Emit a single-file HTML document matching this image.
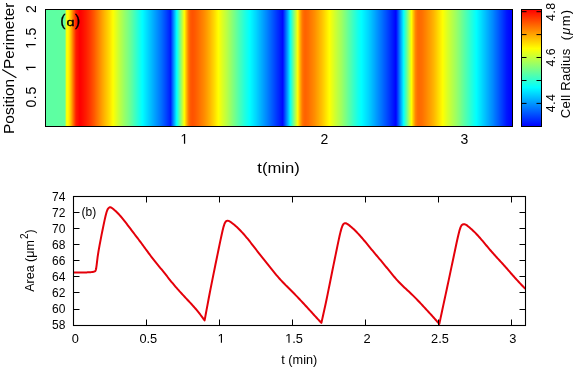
<!DOCTYPE html>
<html><head><meta charset="utf-8"><style>
html,body{margin:0;padding:0;background:#fff;}
svg{display:block;will-change:transform;}
text{font-family:"Liberation Sans",sans-serif;fill:#000;}
</style></head><body>
<svg width="573" height="367" viewBox="0 0 573 367">
<defs>
<linearGradient id="heat" x1="0" y1="0" x2="1" y2="0">
<stop offset="0.0000" stop-color="rgb(92,255,163)"/>
<stop offset="0.0021" stop-color="rgb(92,255,163)"/>
<stop offset="0.0043" stop-color="rgb(92,255,163)"/>
<stop offset="0.0064" stop-color="rgb(92,255,163)"/>
<stop offset="0.0086" stop-color="rgb(92,255,163)"/>
<stop offset="0.0107" stop-color="rgb(93,255,162)"/>
<stop offset="0.0128" stop-color="rgb(93,255,162)"/>
<stop offset="0.0150" stop-color="rgb(93,255,162)"/>
<stop offset="0.0171" stop-color="rgb(93,255,162)"/>
<stop offset="0.0193" stop-color="rgb(93,255,162)"/>
<stop offset="0.0214" stop-color="rgb(93,255,162)"/>
<stop offset="0.0236" stop-color="rgb(93,255,162)"/>
<stop offset="0.0257" stop-color="rgb(94,255,161)"/>
<stop offset="0.0278" stop-color="rgb(94,255,161)"/>
<stop offset="0.0300" stop-color="rgb(94,255,161)"/>
<stop offset="0.0321" stop-color="rgb(95,255,160)"/>
<stop offset="0.0343" stop-color="rgb(95,255,160)"/>
<stop offset="0.0364" stop-color="rgb(96,255,159)"/>
<stop offset="0.0385" stop-color="rgb(97,255,158)"/>
<stop offset="0.0407" stop-color="rgb(99,255,156)"/>
<stop offset="0.0428" stop-color="rgb(151,255,104)"/>
<stop offset="0.0450" stop-color="rgb(242,255,13)"/>
<stop offset="0.0471" stop-color="rgb(255,255,0)"/>
<stop offset="0.0493" stop-color="rgb(255,243,0)"/>
<stop offset="0.0514" stop-color="rgb(255,224,0)"/>
<stop offset="0.0535" stop-color="rgb(255,198,0)"/>
<stop offset="0.0557" stop-color="rgb(255,169,0)"/>
<stop offset="0.0578" stop-color="rgb(255,136,0)"/>
<stop offset="0.0600" stop-color="rgb(255,104,0)"/>
<stop offset="0.0621" stop-color="rgb(255,74,0)"/>
<stop offset="0.0642" stop-color="rgb(255,44,0)"/>
<stop offset="0.0664" stop-color="rgb(255,25,0)"/>
<stop offset="0.0685" stop-color="rgb(255,17,0)"/>
<stop offset="0.0707" stop-color="rgb(255,9,0)"/>
<stop offset="0.0728" stop-color="rgb(255,1,0)"/>
<stop offset="0.0749" stop-color="rgb(255,1,0)"/>
<stop offset="0.0771" stop-color="rgb(255,5,0)"/>
<stop offset="0.0792" stop-color="rgb(255,10,0)"/>
<stop offset="0.0814" stop-color="rgb(255,15,0)"/>
<stop offset="0.0835" stop-color="rgb(255,21,0)"/>
<stop offset="0.0857" stop-color="rgb(255,26,0)"/>
<stop offset="0.0878" stop-color="rgb(255,32,0)"/>
<stop offset="0.0899" stop-color="rgb(255,39,0)"/>
<stop offset="0.0921" stop-color="rgb(255,45,0)"/>
<stop offset="0.0942" stop-color="rgb(255,52,0)"/>
<stop offset="0.0964" stop-color="rgb(255,59,0)"/>
<stop offset="0.0985" stop-color="rgb(255,67,0)"/>
<stop offset="0.1006" stop-color="rgb(255,75,0)"/>
<stop offset="0.1028" stop-color="rgb(255,83,0)"/>
<stop offset="0.1049" stop-color="rgb(255,91,0)"/>
<stop offset="0.1071" stop-color="rgb(255,101,0)"/>
<stop offset="0.1092" stop-color="rgb(255,110,0)"/>
<stop offset="0.1113" stop-color="rgb(255,119,0)"/>
<stop offset="0.1135" stop-color="rgb(255,128,0)"/>
<stop offset="0.1156" stop-color="rgb(255,137,0)"/>
<stop offset="0.1178" stop-color="rgb(255,146,0)"/>
<stop offset="0.1199" stop-color="rgb(255,155,0)"/>
<stop offset="0.1221" stop-color="rgb(255,164,0)"/>
<stop offset="0.1242" stop-color="rgb(255,172,0)"/>
<stop offset="0.1263" stop-color="rgb(255,181,0)"/>
<stop offset="0.1285" stop-color="rgb(255,189,0)"/>
<stop offset="0.1306" stop-color="rgb(255,197,0)"/>
<stop offset="0.1328" stop-color="rgb(255,205,0)"/>
<stop offset="0.1349" stop-color="rgb(255,213,0)"/>
<stop offset="0.1370" stop-color="rgb(255,221,0)"/>
<stop offset="0.1392" stop-color="rgb(255,231,0)"/>
<stop offset="0.1413" stop-color="rgb(255,241,0)"/>
<stop offset="0.1435" stop-color="rgb(255,250,0)"/>
<stop offset="0.1456" stop-color="rgb(250,255,5)"/>
<stop offset="0.1478" stop-color="rgb(240,255,15)"/>
<stop offset="0.1499" stop-color="rgb(231,255,24)"/>
<stop offset="0.1520" stop-color="rgb(221,255,34)"/>
<stop offset="0.1542" stop-color="rgb(212,255,43)"/>
<stop offset="0.1563" stop-color="rgb(202,255,53)"/>
<stop offset="0.1585" stop-color="rgb(193,255,62)"/>
<stop offset="0.1606" stop-color="rgb(184,255,71)"/>
<stop offset="0.1627" stop-color="rgb(176,255,79)"/>
<stop offset="0.1649" stop-color="rgb(168,255,87)"/>
<stop offset="0.1670" stop-color="rgb(159,255,96)"/>
<stop offset="0.1692" stop-color="rgb(151,255,104)"/>
<stop offset="0.1713" stop-color="rgb(143,255,112)"/>
<stop offset="0.1734" stop-color="rgb(136,255,119)"/>
<stop offset="0.1756" stop-color="rgb(129,255,126)"/>
<stop offset="0.1777" stop-color="rgb(121,255,134)"/>
<stop offset="0.1799" stop-color="rgb(113,255,142)"/>
<stop offset="0.1820" stop-color="rgb(104,255,151)"/>
<stop offset="0.1842" stop-color="rgb(95,255,160)"/>
<stop offset="0.1863" stop-color="rgb(87,255,168)"/>
<stop offset="0.1884" stop-color="rgb(77,255,178)"/>
<stop offset="0.1906" stop-color="rgb(68,255,187)"/>
<stop offset="0.1927" stop-color="rgb(59,255,196)"/>
<stop offset="0.1949" stop-color="rgb(50,255,205)"/>
<stop offset="0.1970" stop-color="rgb(41,255,214)"/>
<stop offset="0.1991" stop-color="rgb(32,255,223)"/>
<stop offset="0.2013" stop-color="rgb(23,255,232)"/>
<stop offset="0.2034" stop-color="rgb(15,255,240)"/>
<stop offset="0.2056" stop-color="rgb(6,255,249)"/>
<stop offset="0.2077" stop-color="rgb(0,253,255)"/>
<stop offset="0.2099" stop-color="rgb(0,246,255)"/>
<stop offset="0.2120" stop-color="rgb(0,238,255)"/>
<stop offset="0.2141" stop-color="rgb(0,231,255)"/>
<stop offset="0.2163" stop-color="rgb(0,223,255)"/>
<stop offset="0.2184" stop-color="rgb(0,216,255)"/>
<stop offset="0.2206" stop-color="rgb(0,208,255)"/>
<stop offset="0.2227" stop-color="rgb(0,201,255)"/>
<stop offset="0.2248" stop-color="rgb(0,193,255)"/>
<stop offset="0.2270" stop-color="rgb(0,186,255)"/>
<stop offset="0.2291" stop-color="rgb(0,178,255)"/>
<stop offset="0.2313" stop-color="rgb(0,171,255)"/>
<stop offset="0.2334" stop-color="rgb(0,163,255)"/>
<stop offset="0.2355" stop-color="rgb(0,156,255)"/>
<stop offset="0.2377" stop-color="rgb(0,148,255)"/>
<stop offset="0.2398" stop-color="rgb(0,141,255)"/>
<stop offset="0.2420" stop-color="rgb(0,133,255)"/>
<stop offset="0.2441" stop-color="rgb(0,126,255)"/>
<stop offset="0.2463" stop-color="rgb(0,118,255)"/>
<stop offset="0.2484" stop-color="rgb(0,110,255)"/>
<stop offset="0.2505" stop-color="rgb(0,101,255)"/>
<stop offset="0.2527" stop-color="rgb(0,92,255)"/>
<stop offset="0.2548" stop-color="rgb(0,83,255)"/>
<stop offset="0.2570" stop-color="rgb(0,74,255)"/>
<stop offset="0.2591" stop-color="rgb(0,65,255)"/>
<stop offset="0.2612" stop-color="rgb(0,55,255)"/>
<stop offset="0.2634" stop-color="rgb(0,46,255)"/>
<stop offset="0.2655" stop-color="rgb(0,36,255)"/>
<stop offset="0.2677" stop-color="rgb(0,26,255)"/>
<stop offset="0.2698" stop-color="rgb(0,60,255)"/>
<stop offset="0.2719" stop-color="rgb(0,99,255)"/>
<stop offset="0.2741" stop-color="rgb(0,137,255)"/>
<stop offset="0.2762" stop-color="rgb(0,174,255)"/>
<stop offset="0.2784" stop-color="rgb(0,212,255)"/>
<stop offset="0.2805" stop-color="rgb(0,247,255)"/>
<stop offset="0.2827" stop-color="rgb(27,255,228)"/>
<stop offset="0.2848" stop-color="rgb(61,255,194)"/>
<stop offset="0.2869" stop-color="rgb(95,255,160)"/>
<stop offset="0.2891" stop-color="rgb(129,255,126)"/>
<stop offset="0.2912" stop-color="rgb(162,255,93)"/>
<stop offset="0.2934" stop-color="rgb(195,255,60)"/>
<stop offset="0.2955" stop-color="rgb(228,255,27)"/>
<stop offset="0.2976" stop-color="rgb(255,249,0)"/>
<stop offset="0.2998" stop-color="rgb(255,216,0)"/>
<stop offset="0.3019" stop-color="rgb(255,183,0)"/>
<stop offset="0.3041" stop-color="rgb(255,152,0)"/>
<stop offset="0.3062" stop-color="rgb(255,123,0)"/>
<stop offset="0.3084" stop-color="rgb(255,104,0)"/>
<stop offset="0.3105" stop-color="rgb(255,91,0)"/>
<stop offset="0.3126" stop-color="rgb(255,86,0)"/>
<stop offset="0.3148" stop-color="rgb(255,83,0)"/>
<stop offset="0.3169" stop-color="rgb(255,85,0)"/>
<stop offset="0.3191" stop-color="rgb(255,88,0)"/>
<stop offset="0.3212" stop-color="rgb(255,92,0)"/>
<stop offset="0.3233" stop-color="rgb(255,97,0)"/>
<stop offset="0.3255" stop-color="rgb(255,102,0)"/>
<stop offset="0.3276" stop-color="rgb(255,107,0)"/>
<stop offset="0.3298" stop-color="rgb(255,113,0)"/>
<stop offset="0.3319" stop-color="rgb(255,118,0)"/>
<stop offset="0.3340" stop-color="rgb(255,124,0)"/>
<stop offset="0.3362" stop-color="rgb(255,129,0)"/>
<stop offset="0.3383" stop-color="rgb(255,135,0)"/>
<stop offset="0.3405" stop-color="rgb(255,141,0)"/>
<stop offset="0.3426" stop-color="rgb(255,148,0)"/>
<stop offset="0.3448" stop-color="rgb(255,155,0)"/>
<stop offset="0.3469" stop-color="rgb(255,162,0)"/>
<stop offset="0.3490" stop-color="rgb(255,170,0)"/>
<stop offset="0.3512" stop-color="rgb(255,177,0)"/>
<stop offset="0.3533" stop-color="rgb(255,185,0)"/>
<stop offset="0.3555" stop-color="rgb(255,194,0)"/>
<stop offset="0.3576" stop-color="rgb(255,202,0)"/>
<stop offset="0.3597" stop-color="rgb(255,210,0)"/>
<stop offset="0.3619" stop-color="rgb(255,219,0)"/>
<stop offset="0.3640" stop-color="rgb(255,228,0)"/>
<stop offset="0.3662" stop-color="rgb(255,238,0)"/>
<stop offset="0.3683" stop-color="rgb(255,247,0)"/>
<stop offset="0.3704" stop-color="rgb(254,255,1)"/>
<stop offset="0.3726" stop-color="rgb(246,255,9)"/>
<stop offset="0.3747" stop-color="rgb(237,255,18)"/>
<stop offset="0.3769" stop-color="rgb(228,255,27)"/>
<stop offset="0.3790" stop-color="rgb(219,255,36)"/>
<stop offset="0.3812" stop-color="rgb(211,255,44)"/>
<stop offset="0.3833" stop-color="rgb(203,255,52)"/>
<stop offset="0.3854" stop-color="rgb(195,255,60)"/>
<stop offset="0.3876" stop-color="rgb(187,255,68)"/>
<stop offset="0.3897" stop-color="rgb(179,255,76)"/>
<stop offset="0.3919" stop-color="rgb(170,255,85)"/>
<stop offset="0.3940" stop-color="rgb(161,255,94)"/>
<stop offset="0.3961" stop-color="rgb(153,255,102)"/>
<stop offset="0.3983" stop-color="rgb(144,255,111)"/>
<stop offset="0.4004" stop-color="rgb(135,255,120)"/>
<stop offset="0.4026" stop-color="rgb(126,255,129)"/>
<stop offset="0.4047" stop-color="rgb(118,255,137)"/>
<stop offset="0.4069" stop-color="rgb(109,255,146)"/>
<stop offset="0.4090" stop-color="rgb(100,255,155)"/>
<stop offset="0.4111" stop-color="rgb(92,255,163)"/>
<stop offset="0.4133" stop-color="rgb(83,255,172)"/>
<stop offset="0.4154" stop-color="rgb(75,255,180)"/>
<stop offset="0.4176" stop-color="rgb(66,255,189)"/>
<stop offset="0.4197" stop-color="rgb(59,255,196)"/>
<stop offset="0.4218" stop-color="rgb(51,255,204)"/>
<stop offset="0.4240" stop-color="rgb(43,255,212)"/>
<stop offset="0.4261" stop-color="rgb(35,255,220)"/>
<stop offset="0.4283" stop-color="rgb(28,255,227)"/>
<stop offset="0.4304" stop-color="rgb(21,255,234)"/>
<stop offset="0.4325" stop-color="rgb(15,255,240)"/>
<stop offset="0.4347" stop-color="rgb(8,255,247)"/>
<stop offset="0.4368" stop-color="rgb(1,255,254)"/>
<stop offset="0.4390" stop-color="rgb(0,250,255)"/>
<stop offset="0.4411" stop-color="rgb(0,243,255)"/>
<stop offset="0.4433" stop-color="rgb(0,237,255)"/>
<stop offset="0.4454" stop-color="rgb(0,230,255)"/>
<stop offset="0.4475" stop-color="rgb(0,223,255)"/>
<stop offset="0.4497" stop-color="rgb(0,217,255)"/>
<stop offset="0.4518" stop-color="rgb(0,210,255)"/>
<stop offset="0.4540" stop-color="rgb(0,202,255)"/>
<stop offset="0.4561" stop-color="rgb(0,195,255)"/>
<stop offset="0.4582" stop-color="rgb(0,187,255)"/>
<stop offset="0.4604" stop-color="rgb(0,180,255)"/>
<stop offset="0.4625" stop-color="rgb(0,172,255)"/>
<stop offset="0.4647" stop-color="rgb(0,165,255)"/>
<stop offset="0.4668" stop-color="rgb(0,157,255)"/>
<stop offset="0.4690" stop-color="rgb(0,150,255)"/>
<stop offset="0.4711" stop-color="rgb(0,142,255)"/>
<stop offset="0.4732" stop-color="rgb(0,135,255)"/>
<stop offset="0.4754" stop-color="rgb(0,127,255)"/>
<stop offset="0.4775" stop-color="rgb(0,119,255)"/>
<stop offset="0.4797" stop-color="rgb(0,111,255)"/>
<stop offset="0.4818" stop-color="rgb(0,104,255)"/>
<stop offset="0.4839" stop-color="rgb(0,96,255)"/>
<stop offset="0.4861" stop-color="rgb(0,88,255)"/>
<stop offset="0.4882" stop-color="rgb(0,80,255)"/>
<stop offset="0.4904" stop-color="rgb(0,72,255)"/>
<stop offset="0.4925" stop-color="rgb(0,64,255)"/>
<stop offset="0.4946" stop-color="rgb(0,56,255)"/>
<stop offset="0.4968" stop-color="rgb(0,48,255)"/>
<stop offset="0.4989" stop-color="rgb(0,41,255)"/>
<stop offset="0.5011" stop-color="rgb(0,33,255)"/>
<stop offset="0.5032" stop-color="rgb(0,25,255)"/>
<stop offset="0.5054" stop-color="rgb(0,18,255)"/>
<stop offset="0.5075" stop-color="rgb(0,10,255)"/>
<stop offset="0.5096" stop-color="rgb(0,33,255)"/>
<stop offset="0.5118" stop-color="rgb(0,65,255)"/>
<stop offset="0.5139" stop-color="rgb(0,97,255)"/>
<stop offset="0.5161" stop-color="rgb(0,129,255)"/>
<stop offset="0.5182" stop-color="rgb(0,161,255)"/>
<stop offset="0.5203" stop-color="rgb(0,195,255)"/>
<stop offset="0.5225" stop-color="rgb(0,230,255)"/>
<stop offset="0.5246" stop-color="rgb(10,255,245)"/>
<stop offset="0.5268" stop-color="rgb(44,255,211)"/>
<stop offset="0.5289" stop-color="rgb(78,255,177)"/>
<stop offset="0.5310" stop-color="rgb(113,255,142)"/>
<stop offset="0.5332" stop-color="rgb(147,255,108)"/>
<stop offset="0.5353" stop-color="rgb(181,255,74)"/>
<stop offset="0.5375" stop-color="rgb(214,255,41)"/>
<stop offset="0.5396" stop-color="rgb(247,255,8)"/>
<stop offset="0.5418" stop-color="rgb(255,230,0)"/>
<stop offset="0.5439" stop-color="rgb(255,197,0)"/>
<stop offset="0.5460" stop-color="rgb(255,166,0)"/>
<stop offset="0.5482" stop-color="rgb(255,140,0)"/>
<stop offset="0.5503" stop-color="rgb(255,119,0)"/>
<stop offset="0.5525" stop-color="rgb(255,108,0)"/>
<stop offset="0.5546" stop-color="rgb(255,101,0)"/>
<stop offset="0.5567" stop-color="rgb(255,99,0)"/>
<stop offset="0.5589" stop-color="rgb(255,101,0)"/>
<stop offset="0.5610" stop-color="rgb(255,105,0)"/>
<stop offset="0.5632" stop-color="rgb(255,108,0)"/>
<stop offset="0.5653" stop-color="rgb(255,114,0)"/>
<stop offset="0.5675" stop-color="rgb(255,120,0)"/>
<stop offset="0.5696" stop-color="rgb(255,125,0)"/>
<stop offset="0.5717" stop-color="rgb(255,130,0)"/>
<stop offset="0.5739" stop-color="rgb(255,136,0)"/>
<stop offset="0.5760" stop-color="rgb(255,141,0)"/>
<stop offset="0.5782" stop-color="rgb(255,148,0)"/>
<stop offset="0.5803" stop-color="rgb(255,155,0)"/>
<stop offset="0.5824" stop-color="rgb(255,162,0)"/>
<stop offset="0.5846" stop-color="rgb(255,168,0)"/>
<stop offset="0.5867" stop-color="rgb(255,176,0)"/>
<stop offset="0.5889" stop-color="rgb(255,183,0)"/>
<stop offset="0.5910" stop-color="rgb(255,190,0)"/>
<stop offset="0.5931" stop-color="rgb(255,198,0)"/>
<stop offset="0.5953" stop-color="rgb(255,206,0)"/>
<stop offset="0.5974" stop-color="rgb(255,214,0)"/>
<stop offset="0.5996" stop-color="rgb(255,223,0)"/>
<stop offset="0.6017" stop-color="rgb(255,231,0)"/>
<stop offset="0.6039" stop-color="rgb(255,240,0)"/>
<stop offset="0.6060" stop-color="rgb(255,248,0)"/>
<stop offset="0.6081" stop-color="rgb(254,255,1)"/>
<stop offset="0.6103" stop-color="rgb(246,255,9)"/>
<stop offset="0.6124" stop-color="rgb(237,255,18)"/>
<stop offset="0.6146" stop-color="rgb(229,255,26)"/>
<stop offset="0.6167" stop-color="rgb(221,255,34)"/>
<stop offset="0.6188" stop-color="rgb(212,255,43)"/>
<stop offset="0.6210" stop-color="rgb(204,255,51)"/>
<stop offset="0.6231" stop-color="rgb(197,255,58)"/>
<stop offset="0.6253" stop-color="rgb(189,255,66)"/>
<stop offset="0.6274" stop-color="rgb(182,255,73)"/>
<stop offset="0.6296" stop-color="rgb(175,255,80)"/>
<stop offset="0.6317" stop-color="rgb(167,255,88)"/>
<stop offset="0.6338" stop-color="rgb(160,255,95)"/>
<stop offset="0.6360" stop-color="rgb(151,255,104)"/>
<stop offset="0.6381" stop-color="rgb(142,255,113)"/>
<stop offset="0.6403" stop-color="rgb(133,255,122)"/>
<stop offset="0.6424" stop-color="rgb(125,255,130)"/>
<stop offset="0.6445" stop-color="rgb(116,255,139)"/>
<stop offset="0.6467" stop-color="rgb(107,255,148)"/>
<stop offset="0.6488" stop-color="rgb(98,255,157)"/>
<stop offset="0.6510" stop-color="rgb(90,255,165)"/>
<stop offset="0.6531" stop-color="rgb(81,255,174)"/>
<stop offset="0.6552" stop-color="rgb(73,255,182)"/>
<stop offset="0.6574" stop-color="rgb(64,255,191)"/>
<stop offset="0.6595" stop-color="rgb(56,255,199)"/>
<stop offset="0.6617" stop-color="rgb(48,255,207)"/>
<stop offset="0.6638" stop-color="rgb(40,255,215)"/>
<stop offset="0.6660" stop-color="rgb(32,255,223)"/>
<stop offset="0.6681" stop-color="rgb(24,255,231)"/>
<stop offset="0.6702" stop-color="rgb(17,255,238)"/>
<stop offset="0.6724" stop-color="rgb(11,255,244)"/>
<stop offset="0.6745" stop-color="rgb(5,255,250)"/>
<stop offset="0.6767" stop-color="rgb(0,254,255)"/>
<stop offset="0.6788" stop-color="rgb(0,248,255)"/>
<stop offset="0.6809" stop-color="rgb(0,242,255)"/>
<stop offset="0.6831" stop-color="rgb(0,236,255)"/>
<stop offset="0.6852" stop-color="rgb(0,230,255)"/>
<stop offset="0.6874" stop-color="rgb(0,224,255)"/>
<stop offset="0.6895" stop-color="rgb(0,218,255)"/>
<stop offset="0.6916" stop-color="rgb(0,212,255)"/>
<stop offset="0.6938" stop-color="rgb(0,205,255)"/>
<stop offset="0.6959" stop-color="rgb(0,198,255)"/>
<stop offset="0.6981" stop-color="rgb(0,191,255)"/>
<stop offset="0.7002" stop-color="rgb(0,183,255)"/>
<stop offset="0.7024" stop-color="rgb(0,176,255)"/>
<stop offset="0.7045" stop-color="rgb(0,169,255)"/>
<stop offset="0.7066" stop-color="rgb(0,161,255)"/>
<stop offset="0.7088" stop-color="rgb(0,153,255)"/>
<stop offset="0.7109" stop-color="rgb(0,146,255)"/>
<stop offset="0.7131" stop-color="rgb(0,138,255)"/>
<stop offset="0.7152" stop-color="rgb(0,131,255)"/>
<stop offset="0.7173" stop-color="rgb(0,123,255)"/>
<stop offset="0.7195" stop-color="rgb(0,116,255)"/>
<stop offset="0.7216" stop-color="rgb(0,108,255)"/>
<stop offset="0.7238" stop-color="rgb(0,100,255)"/>
<stop offset="0.7259" stop-color="rgb(0,92,255)"/>
<stop offset="0.7281" stop-color="rgb(0,85,255)"/>
<stop offset="0.7302" stop-color="rgb(0,77,255)"/>
<stop offset="0.7323" stop-color="rgb(0,69,255)"/>
<stop offset="0.7345" stop-color="rgb(0,61,255)"/>
<stop offset="0.7366" stop-color="rgb(0,53,255)"/>
<stop offset="0.7388" stop-color="rgb(0,45,255)"/>
<stop offset="0.7409" stop-color="rgb(0,37,255)"/>
<stop offset="0.7430" stop-color="rgb(0,29,255)"/>
<stop offset="0.7452" stop-color="rgb(0,21,255)"/>
<stop offset="0.7473" stop-color="rgb(0,13,255)"/>
<stop offset="0.7495" stop-color="rgb(0,5,255)"/>
<stop offset="0.7516" stop-color="rgb(0,20,255)"/>
<stop offset="0.7537" stop-color="rgb(0,53,255)"/>
<stop offset="0.7559" stop-color="rgb(0,86,255)"/>
<stop offset="0.7580" stop-color="rgb(0,119,255)"/>
<stop offset="0.7602" stop-color="rgb(0,152,255)"/>
<stop offset="0.7623" stop-color="rgb(0,185,255)"/>
<stop offset="0.7645" stop-color="rgb(0,217,255)"/>
<stop offset="0.7666" stop-color="rgb(0,250,255)"/>
<stop offset="0.7687" stop-color="rgb(27,255,228)"/>
<stop offset="0.7709" stop-color="rgb(59,255,196)"/>
<stop offset="0.7730" stop-color="rgb(90,255,165)"/>
<stop offset="0.7752" stop-color="rgb(123,255,132)"/>
<stop offset="0.7773" stop-color="rgb(156,255,99)"/>
<stop offset="0.7794" stop-color="rgb(189,255,66)"/>
<stop offset="0.7816" stop-color="rgb(222,255,33)"/>
<stop offset="0.7837" stop-color="rgb(254,255,1)"/>
<stop offset="0.7859" stop-color="rgb(255,224,0)"/>
<stop offset="0.7880" stop-color="rgb(255,192,0)"/>
<stop offset="0.7901" stop-color="rgb(255,163,0)"/>
<stop offset="0.7923" stop-color="rgb(255,135,0)"/>
<stop offset="0.7944" stop-color="rgb(255,122,0)"/>
<stop offset="0.7966" stop-color="rgb(255,111,0)"/>
<stop offset="0.7987" stop-color="rgb(255,107,0)"/>
<stop offset="0.8009" stop-color="rgb(255,106,0)"/>
<stop offset="0.8030" stop-color="rgb(255,108,0)"/>
<stop offset="0.8051" stop-color="rgb(255,110,0)"/>
<stop offset="0.8073" stop-color="rgb(255,114,0)"/>
<stop offset="0.8094" stop-color="rgb(255,119,0)"/>
<stop offset="0.8116" stop-color="rgb(255,125,0)"/>
<stop offset="0.8137" stop-color="rgb(255,130,0)"/>
<stop offset="0.8158" stop-color="rgb(255,136,0)"/>
<stop offset="0.8180" stop-color="rgb(255,142,0)"/>
<stop offset="0.8201" stop-color="rgb(255,148,0)"/>
<stop offset="0.8223" stop-color="rgb(255,153,0)"/>
<stop offset="0.8244" stop-color="rgb(255,160,0)"/>
<stop offset="0.8266" stop-color="rgb(255,166,0)"/>
<stop offset="0.8287" stop-color="rgb(255,173,0)"/>
<stop offset="0.8308" stop-color="rgb(255,179,0)"/>
<stop offset="0.8330" stop-color="rgb(255,187,0)"/>
<stop offset="0.8351" stop-color="rgb(255,195,0)"/>
<stop offset="0.8373" stop-color="rgb(255,203,0)"/>
<stop offset="0.8394" stop-color="rgb(255,212,0)"/>
<stop offset="0.8415" stop-color="rgb(255,220,0)"/>
<stop offset="0.8437" stop-color="rgb(255,228,0)"/>
<stop offset="0.8458" stop-color="rgb(255,237,0)"/>
<stop offset="0.8480" stop-color="rgb(255,245,0)"/>
<stop offset="0.8501" stop-color="rgb(255,253,0)"/>
<stop offset="0.8522" stop-color="rgb(248,255,7)"/>
<stop offset="0.8544" stop-color="rgb(240,255,15)"/>
<stop offset="0.8565" stop-color="rgb(232,255,23)"/>
<stop offset="0.8587" stop-color="rgb(224,255,31)"/>
<stop offset="0.8608" stop-color="rgb(216,255,39)"/>
<stop offset="0.8630" stop-color="rgb(209,255,46)"/>
<stop offset="0.8651" stop-color="rgb(202,255,53)"/>
<stop offset="0.8672" stop-color="rgb(195,255,60)"/>
<stop offset="0.8694" stop-color="rgb(188,255,67)"/>
<stop offset="0.8715" stop-color="rgb(181,255,74)"/>
<stop offset="0.8737" stop-color="rgb(174,255,81)"/>
<stop offset="0.8758" stop-color="rgb(167,255,88)"/>
<stop offset="0.8779" stop-color="rgb(160,255,95)"/>
<stop offset="0.8801" stop-color="rgb(153,255,102)"/>
<stop offset="0.8822" stop-color="rgb(145,255,110)"/>
<stop offset="0.8844" stop-color="rgb(138,255,117)"/>
<stop offset="0.8865" stop-color="rgb(130,255,125)"/>
<stop offset="0.8887" stop-color="rgb(122,255,133)"/>
<stop offset="0.8908" stop-color="rgb(113,255,142)"/>
<stop offset="0.8929" stop-color="rgb(105,255,150)"/>
<stop offset="0.8951" stop-color="rgb(97,255,158)"/>
<stop offset="0.8972" stop-color="rgb(89,255,166)"/>
<stop offset="0.8994" stop-color="rgb(81,255,174)"/>
<stop offset="0.9015" stop-color="rgb(74,255,181)"/>
<stop offset="0.9036" stop-color="rgb(66,255,189)"/>
<stop offset="0.9058" stop-color="rgb(59,255,196)"/>
<stop offset="0.9079" stop-color="rgb(51,255,204)"/>
<stop offset="0.9101" stop-color="rgb(44,255,211)"/>
<stop offset="0.9122" stop-color="rgb(36,255,219)"/>
<stop offset="0.9143" stop-color="rgb(29,255,226)"/>
<stop offset="0.9165" stop-color="rgb(21,255,234)"/>
<stop offset="0.9186" stop-color="rgb(14,255,241)"/>
<stop offset="0.9208" stop-color="rgb(6,255,249)"/>
<stop offset="0.9229" stop-color="rgb(0,254,255)"/>
<stop offset="0.9251" stop-color="rgb(0,247,255)"/>
<stop offset="0.9272" stop-color="rgb(0,240,255)"/>
<stop offset="0.9293" stop-color="rgb(0,233,255)"/>
<stop offset="0.9315" stop-color="rgb(0,226,255)"/>
<stop offset="0.9336" stop-color="rgb(0,219,255)"/>
<stop offset="0.9358" stop-color="rgb(0,211,255)"/>
<stop offset="0.9379" stop-color="rgb(0,204,255)"/>
<stop offset="0.9400" stop-color="rgb(0,197,255)"/>
<stop offset="0.9422" stop-color="rgb(0,190,255)"/>
<stop offset="0.9443" stop-color="rgb(0,182,255)"/>
<stop offset="0.9465" stop-color="rgb(0,175,255)"/>
<stop offset="0.9486" stop-color="rgb(0,168,255)"/>
<stop offset="0.9507" stop-color="rgb(0,160,255)"/>
<stop offset="0.9529" stop-color="rgb(0,153,255)"/>
<stop offset="0.9550" stop-color="rgb(0,146,255)"/>
<stop offset="0.9572" stop-color="rgb(0,139,255)"/>
<stop offset="0.9593" stop-color="rgb(0,131,255)"/>
<stop offset="0.9615" stop-color="rgb(0,122,255)"/>
<stop offset="0.9636" stop-color="rgb(0,114,255)"/>
<stop offset="0.9657" stop-color="rgb(0,106,255)"/>
<stop offset="0.9679" stop-color="rgb(0,98,255)"/>
<stop offset="0.9700" stop-color="rgb(0,90,255)"/>
<stop offset="0.9722" stop-color="rgb(0,81,255)"/>
<stop offset="0.9743" stop-color="rgb(0,73,255)"/>
<stop offset="0.9764" stop-color="rgb(0,65,255)"/>
<stop offset="0.9786" stop-color="rgb(0,57,255)"/>
<stop offset="0.9807" stop-color="rgb(0,48,255)"/>
<stop offset="0.9829" stop-color="rgb(0,40,255)"/>
<stop offset="0.9850" stop-color="rgb(0,32,255)"/>
<stop offset="0.9872" stop-color="rgb(0,23,255)"/>
<stop offset="0.9893" stop-color="rgb(0,18,255)"/>
<stop offset="0.9914" stop-color="rgb(0,13,255)"/>
<stop offset="0.9936" stop-color="rgb(0,9,255)"/>
<stop offset="0.9957" stop-color="rgb(0,4,255)"/>
<stop offset="0.9979" stop-color="rgb(0,0,255)"/>
<stop offset="1.0000" stop-color="rgb(0,5,255)"/>
</linearGradient>
<linearGradient id="cbar" x1="0" y1="1" x2="0" y2="0">
<stop offset="0" stop-color="rgb(0,0,255)"/>
<stop offset="0.3333" stop-color="rgb(0,255,255)"/>
<stop offset="0.6667" stop-color="rgb(255,255,0)"/>
<stop offset="1" stop-color="rgb(255,0,0)"/>
</linearGradient>
</defs>
<rect x="0" y="0" width="573" height="367" fill="#fff"/>
<!-- top heatmap -->
<rect x="45.5" y="9.5" width="467.0" height="117.0" fill="url(#heat)"/>
<rect x="45.5" y="9.5" width="467.0" height="117.0" fill="none" stroke="#000" stroke-width="1"/>
<g stroke="#000" stroke-width="0.3"><text x="60.2" y="25.7" style="font-size:15.6px">(</text><text transform="translate(66.4,25.9) scale(1.32,0.95)" style="font-size:11px">&#593;</text><text x="74.9" y="25.7" style="font-size:15.6px">)</text></g>
<!-- top y labels -->
<g transform="translate(35.60,9.20) rotate(-90)"><text x="-3.89" y="0" style="font-size:14px">2</text></g><g transform="translate(35.60,38.30) rotate(-90)"><path d="M515,0L515,1237L197,1010L197,1180L530,1409L696,1409L696,0Z" transform="translate(-10.53,0) scale(0.00684,-0.00684)"/><text x="-1.94" y="0" style="font-size:14px">.</text><text x="2.74" y="0" style="font-size:14px">5</text></g><g transform="translate(35.60,67.70) rotate(-90)"><path d="M515,0L515,1237L197,1010L197,1180L530,1409L696,1409L696,0Z" transform="translate(-3.89,0) scale(0.00684,-0.00684)"/></g><g transform="translate(35.60,97.20) rotate(-90)"><text x="-10.43" y="0" style="font-size:14px">0</text><text x="-1.94" y="0" style="font-size:14px">.</text><text x="2.64" y="0" style="font-size:14px">5</text></g>
<text transform="translate(14.1,133.96) rotate(-90)" style="font-size:15px" textLength="55.1" lengthAdjust="spacingAndGlyphs">Position</text><line x1="16.4" y1="77.7" x2="2.2" y2="69.5" stroke="#000" stroke-width="1.15"/><text transform="translate(14.1,69.06) rotate(-90)" style="font-size:15px" textLength="66.3" lengthAdjust="spacingAndGlyphs">Perimeter</text>
<g transform="translate(184.30,143.70)"><path d="M515,0L515,1237L197,1010L197,1180L530,1409L696,1409L696,0Z" transform="translate(-3.89,0) scale(0.00684,-0.00684)"/></g><g transform="translate(324.30,143.70)"><text x="-3.89" y="0" style="font-size:14px">2</text></g><g transform="translate(464.30,143.70)"><text x="-3.89" y="0" style="font-size:14px">3</text></g>
<text x="257.3" y="172.9" style="font-size:15px" textLength="42.5" lengthAdjust="spacingAndGlyphs">t(min)</text>
<!-- colorbar -->
<rect x="521.5" y="9.5" width="20" height="117" fill="url(#cbar)" stroke="#000" stroke-width="1"/>
<g stroke="#000" stroke-width="1"><line x1="521.5" y1="11.7" x2="526.5" y2="11.7"/><line x1="541.5" y1="11.7" x2="536.5" y2="11.7"/><line x1="521.5" y1="34.6" x2="526.5" y2="34.6"/><line x1="541.5" y1="34.6" x2="536.5" y2="34.6"/><line x1="521.5" y1="57.5" x2="526.5" y2="57.5"/><line x1="541.5" y1="57.5" x2="536.5" y2="57.5"/><line x1="521.5" y1="80.5" x2="526.5" y2="80.5"/><line x1="541.5" y1="80.5" x2="536.5" y2="80.5"/><line x1="521.5" y1="103.4" x2="526.5" y2="103.4"/><line x1="541.5" y1="103.4" x2="536.5" y2="103.4"/></g>
<g transform="translate(554.60,11.90) rotate(-90)"><text x="-9.12" y="0" style="font-size:12.4px">4</text><text x="-1.72" y="0" style="font-size:12.4px">.</text><text x="2.22" y="0" style="font-size:12.4px">8</text></g><g transform="translate(554.60,57.50) rotate(-90)"><text x="-9.12" y="0" style="font-size:12.4px">4</text><text x="-1.72" y="0" style="font-size:12.4px">.</text><text x="2.22" y="0" style="font-size:12.4px">6</text></g><g transform="translate(554.60,103.10) rotate(-90)"><text x="-9.12" y="0" style="font-size:12.4px">4</text><text x="-1.72" y="0" style="font-size:12.4px">.</text><text x="2.22" y="0" style="font-size:12.4px">4</text></g>
<text transform="translate(570.2,118.3) rotate(-90)" style="font-size:13px" textLength="69.6" lengthAdjust="spacing">Cell Radius</text><text transform="translate(570.2,40.2) rotate(-90)" style="font-size:13px" textLength="30.2" lengthAdjust="spacing">(<tspan style="font-style:italic">&#956;</tspan>m)</text>
<!-- bottom plot -->
<polyline points="73.60,272.60 74.60,272.59 75.60,272.58 76.60,272.57 77.60,272.56 78.60,272.56 79.60,272.55 80.60,272.54 81.60,272.53 82.60,272.51 83.60,272.48 84.60,272.45 85.60,272.43 86.60,272.39 87.60,272.34 88.60,272.29 89.60,272.23 90.60,272.16 91.60,272.08 92.60,271.94 93.60,271.71 94.35,271.54 94.60,271.44 94.85,271.31 95.10,271.17 95.35,271.03 95.40,271.00 95.60,270.44 95.85,269.75 96.10,268.84 96.60,265.37 97.60,257.06 98.60,250.69 99.60,245.13 100.60,239.82 101.60,234.66 102.60,229.70 103.60,224.87 104.60,220.10 105.60,215.69 106.60,211.99 107.60,209.40 108.60,207.97 109.60,207.33 110.60,207.31 111.60,207.76 112.60,208.50 113.60,209.31 114.60,210.15 115.60,211.03 116.60,211.98 117.60,212.97 118.60,214.01 119.60,215.11 120.60,216.25 121.60,217.44 122.60,218.66 123.60,219.92 124.60,221.19 125.60,222.45 126.60,223.73 127.60,225.02 128.60,226.33 129.60,227.65 130.60,228.97 131.60,230.29 132.60,231.61 133.60,232.92 134.60,234.24 135.60,235.55 136.60,236.87 137.60,238.18 138.60,239.50 139.60,240.83 140.60,242.16 141.60,243.51 142.60,244.87 143.60,246.23 144.60,247.60 145.60,248.97 146.60,250.34 147.60,251.71 148.60,253.07 149.60,254.42 150.60,255.75 151.60,257.07 152.60,258.36 153.60,259.64 154.60,260.90 155.60,262.15 156.60,263.38 157.60,264.61 158.60,265.82 159.60,267.04 160.60,268.26 161.60,269.49 162.60,270.72 163.60,271.97 164.60,273.22 165.60,274.48 166.60,275.74 167.60,277.00 168.60,278.27 169.60,279.52 170.60,280.77 171.60,282.01 172.60,283.23 173.60,284.43 174.60,285.62 175.60,286.78 176.60,287.94 177.60,289.07 178.60,290.19 179.60,291.30 180.60,292.40 181.60,293.49 182.60,294.58 183.60,295.66 184.60,296.73 185.60,297.81 186.60,298.89 187.60,299.96 188.60,301.04 189.60,302.11 190.60,303.19 191.60,304.27 192.60,305.37 193.60,306.47 194.60,307.59 195.60,308.74 196.60,309.93 197.60,311.15 198.60,312.41 199.60,313.69 200.60,315.00 201.60,316.34 202.60,317.69 203.60,319.05 203.85,319.38 204.10,319.72 204.35,320.06 204.60,320.40 204.60,320.40 204.85,319.06 205.10,317.72 205.35,316.38 205.60,315.04 206.60,309.68 207.60,304.32 208.60,298.99 209.60,293.76 210.60,288.64 211.60,283.59 212.60,278.60 213.60,273.64 214.60,268.70 215.60,263.79 216.60,258.95 217.60,254.10 218.60,249.23 219.60,244.40 220.60,239.63 221.60,234.96 222.60,230.53 223.60,226.57 224.60,223.52 225.60,221.70 226.60,220.89 227.60,220.67 228.60,220.89 229.60,221.36 230.60,221.98 231.60,222.69 232.60,223.45 233.60,224.25 234.60,225.08 235.60,225.93 236.60,226.81 237.60,227.73 238.60,228.69 239.60,229.70 240.60,230.74 241.60,231.82 242.60,232.94 243.60,234.04 244.60,235.17 245.60,236.33 246.60,237.52 247.60,238.73 248.60,239.97 249.60,241.22 250.60,242.50 251.60,243.78 252.60,245.07 253.60,246.36 254.60,247.66 255.60,248.95 256.60,250.24 257.60,251.52 258.60,252.80 259.60,254.07 260.60,255.34 261.60,256.61 262.60,257.87 263.60,259.13 264.60,260.39 265.60,261.65 266.60,262.91 267.60,264.17 268.60,265.44 269.60,266.69 270.60,267.95 271.60,269.20 272.60,270.44 273.60,271.67 274.60,272.89 275.60,274.10 276.60,275.29 277.60,276.46 278.60,277.61 279.60,278.74 280.60,279.85 281.60,280.93 282.60,282.00 283.60,283.04 284.60,284.07 285.60,285.08 286.60,286.08 287.60,287.08 288.60,288.06 289.60,289.05 290.60,290.04 291.60,291.03 292.60,292.03 293.60,293.04 294.60,294.05 295.60,295.08 296.60,296.11 297.60,297.15 298.60,298.20 299.60,299.26 300.60,300.32 301.60,301.39 302.60,302.46 303.60,303.54 304.60,304.62 305.60,305.70 306.60,306.79 307.60,307.88 308.60,308.97 309.60,310.07 310.60,311.17 311.60,312.27 312.60,313.38 313.60,314.48 314.60,315.58 315.60,316.68 316.60,317.78 317.60,318.86 318.60,319.92 319.60,320.99 320.60,322.05 320.85,322.32 321.10,322.58 321.35,322.85 321.40,322.90 321.60,322.00 321.85,320.87 322.10,319.75 322.35,318.62 322.60,317.50 323.60,313.00 324.60,308.50 325.60,303.93 326.60,299.21 327.60,294.34 328.60,289.41 329.60,284.45 330.60,279.47 331.60,274.48 332.60,269.51 333.60,264.59 334.60,259.75 335.60,254.83 336.60,249.94 337.60,245.11 338.60,240.38 339.60,235.84 340.60,231.64 341.60,228.05 342.60,225.41 343.60,223.92 344.60,223.28 345.60,223.20 346.60,223.55 347.60,224.11 348.60,224.81 349.60,225.63 350.60,226.46 351.60,227.31 352.60,228.18 353.60,229.09 354.60,230.04 355.60,231.02 356.60,232.04 357.60,233.10 358.60,234.18 359.60,235.29 360.60,236.42 361.60,237.54 362.60,238.68 363.60,239.84 364.60,241.02 365.60,242.22 366.60,243.42 367.60,244.63 368.60,245.85 369.60,247.07 370.60,248.29 371.60,249.51 372.60,250.72 373.60,251.92 374.60,253.12 375.60,254.31 376.60,255.50 377.60,256.68 378.60,257.86 379.60,259.04 380.60,260.23 381.60,261.42 382.60,262.62 383.60,263.83 384.60,265.04 385.60,266.27 386.60,267.50 387.60,268.74 388.60,269.98 389.60,271.22 390.60,272.45 391.60,273.67 392.60,274.88 393.60,276.08 394.60,277.26 395.60,278.41 396.60,279.54 397.60,280.65 398.60,281.73 399.60,282.77 400.60,283.80 401.60,284.79 402.60,285.76 403.60,286.72 404.60,287.65 405.60,288.58 406.60,289.50 407.60,290.42 408.60,291.35 409.60,292.28 410.60,293.22 411.60,294.18 412.60,295.15 413.60,296.13 414.60,297.13 415.60,298.14 416.60,299.17 417.60,300.20 418.60,301.25 419.60,302.31 420.60,303.37 421.60,304.43 422.60,305.50 423.60,306.58 424.60,307.65 425.60,308.73 426.60,309.82 427.60,310.91 428.60,312.00 429.60,313.09 430.60,314.19 431.60,315.29 432.60,316.39 433.60,317.50 434.60,318.61 435.60,319.73 436.60,320.86 437.60,321.98 438.35,322.83 438.60,323.11 438.85,323.39 439.10,323.67 439.30,323.90 439.35,323.67 439.60,322.50 439.85,321.34 440.10,320.18 440.60,317.85 441.60,313.20 442.60,308.54 443.60,303.89 444.60,299.24 445.60,294.59 446.60,289.95 447.60,285.29 448.60,280.61 449.60,275.88 450.60,271.13 451.60,266.40 452.60,261.71 453.60,256.97 454.60,252.22 455.60,247.49 456.60,242.82 457.60,238.28 458.60,233.97 459.60,230.11 460.60,227.13 461.60,225.35 462.60,224.47 463.60,224.17 464.60,224.29 465.60,224.63 466.60,225.17 467.60,225.91 468.60,226.72 469.60,227.57 470.60,228.43 471.60,229.31 472.60,230.22 473.60,231.16 474.60,232.14 475.60,233.16 476.60,234.21 477.60,235.30 478.60,236.42 479.60,237.52 480.60,238.64 481.60,239.79 482.60,240.96 483.60,242.14 484.60,243.34 485.60,244.54 486.60,245.74 487.60,246.94 488.60,248.13 489.60,249.31 490.60,250.48 491.60,251.64 492.60,252.78 493.60,253.91 494.60,255.03 495.60,256.13 496.60,257.23 497.60,258.32 498.60,259.41 499.60,260.50 500.60,261.59 501.60,262.69 502.60,263.79 503.60,264.90 504.60,266.02 505.60,267.15 506.60,268.28 507.60,269.42 508.60,270.56 509.60,271.70 510.60,272.85 511.60,274.00 512.60,275.13 513.60,276.26 514.60,277.38 515.60,278.48 516.60,279.57 517.60,280.66 518.60,281.75 519.60,282.84 520.60,283.92 521.60,284.99 522.60,286.03 523.60,287.06 524.60,288.08 525.35,288.85" fill="none" stroke="#e4000a" stroke-width="2" stroke-linejoin="round"/>
<rect x="73.5" y="196.5" width="452" height="129" fill="none" stroke="#000" stroke-width="1.1"/>
<g stroke="#000" stroke-width="1"><line x1="73.5" y1="196.5" x2="73.5" y2="202.5"/><line x1="146.5" y1="325.5" x2="146.5" y2="319.5"/><line x1="146.5" y1="196.5" x2="146.5" y2="202.5"/><line x1="219.5" y1="325.5" x2="219.5" y2="319.5"/><line x1="219.5" y1="196.5" x2="219.5" y2="202.5"/><line x1="292.5" y1="325.5" x2="292.5" y2="319.5"/><line x1="292.5" y1="196.5" x2="292.5" y2="202.5"/><line x1="365.5" y1="325.5" x2="365.5" y2="319.5"/><line x1="365.5" y1="196.5" x2="365.5" y2="202.5"/><line x1="438.5" y1="325.5" x2="438.5" y2="319.5"/><line x1="438.5" y1="196.5" x2="438.5" y2="202.5"/><line x1="511.5" y1="325.5" x2="511.5" y2="319.5"/><line x1="511.5" y1="196.5" x2="511.5" y2="202.5"/><line x1="73.5" y1="309.5" x2="79.5" y2="309.5"/><line x1="525.5" y1="309.5" x2="519.5" y2="309.5"/><line x1="73.5" y1="292.5" x2="79.5" y2="292.5"/><line x1="525.5" y1="292.5" x2="519.5" y2="292.5"/><line x1="73.5" y1="276.5" x2="79.5" y2="276.5"/><line x1="525.5" y1="276.5" x2="519.5" y2="276.5"/><line x1="73.5" y1="260.5" x2="79.5" y2="260.5"/><line x1="525.5" y1="260.5" x2="519.5" y2="260.5"/><line x1="73.5" y1="244.5" x2="79.5" y2="244.5"/><line x1="525.5" y1="244.5" x2="519.5" y2="244.5"/><line x1="73.5" y1="228.5" x2="79.5" y2="228.5"/><line x1="525.5" y1="228.5" x2="519.5" y2="228.5"/><line x1="73.5" y1="212.5" x2="79.5" y2="212.5"/><line x1="525.5" y1="212.5" x2="519.5" y2="212.5"/></g>
<g transform="translate(75.40,342.70)"><text x="-3.56" y="0" style="font-size:12.8px">0</text></g><g transform="translate(148.30,342.70)"><text x="-8.90" y="0" style="font-size:12.8px">0</text><text x="-1.78" y="0" style="font-size:12.8px">.</text><text x="1.78" y="0" style="font-size:12.8px">5</text></g><g transform="translate(221.20,342.70)"><path d="M515,0L515,1237L197,1010L197,1180L530,1409L696,1409L696,0Z" transform="translate(-3.56,0) scale(0.00625,-0.00625)"/></g><g transform="translate(294.10,342.70)"><path d="M515,0L515,1237L197,1010L197,1180L530,1409L696,1409L696,0Z" transform="translate(-8.90,0) scale(0.00625,-0.00625)"/><text x="-1.78" y="0" style="font-size:12.8px">.</text><text x="1.78" y="0" style="font-size:12.8px">5</text></g><g transform="translate(367.00,342.70)"><text x="-3.56" y="0" style="font-size:12.8px">2</text></g><g transform="translate(439.90,342.70)"><text x="-8.90" y="0" style="font-size:12.8px">2</text><text x="-1.78" y="0" style="font-size:12.8px">.</text><text x="1.78" y="0" style="font-size:12.8px">5</text></g><g transform="translate(512.80,342.70)"><text x="-3.56" y="0" style="font-size:12.8px">3</text></g><g transform="translate(65.40,329.40)"><text x="-13.35" y="0" style="font-size:12px">5</text><text x="-6.67" y="0" style="font-size:12px">8</text></g><g transform="translate(65.40,313.31)"><text x="-13.35" y="0" style="font-size:12px">6</text><text x="-6.67" y="0" style="font-size:12px">0</text></g><g transform="translate(65.40,297.23)"><text x="-13.35" y="0" style="font-size:12px">6</text><text x="-6.67" y="0" style="font-size:12px">2</text></g><g transform="translate(65.40,281.14)"><text x="-13.35" y="0" style="font-size:12px">6</text><text x="-6.67" y="0" style="font-size:12px">4</text></g><g transform="translate(65.40,265.05)"><text x="-13.35" y="0" style="font-size:12px">6</text><text x="-6.67" y="0" style="font-size:12px">6</text></g><g transform="translate(65.40,248.96)"><text x="-13.35" y="0" style="font-size:12px">6</text><text x="-6.67" y="0" style="font-size:12px">8</text></g><g transform="translate(65.40,232.88)"><text x="-13.35" y="0" style="font-size:12px">7</text><text x="-6.67" y="0" style="font-size:12px">0</text></g><g transform="translate(65.40,216.79)"><text x="-13.35" y="0" style="font-size:12px">7</text><text x="-6.67" y="0" style="font-size:12px">2</text></g><g transform="translate(65.40,200.70)"><text x="-13.35" y="0" style="font-size:12px">7</text><text x="-6.67" y="0" style="font-size:12px">4</text></g>
<text x="81.5" y="215.6" style="font-size:12px">(b)</text>
<text x="281.3" y="364.1" style="font-size:13px" textLength="36" lengthAdjust="spacingAndGlyphs">t (min)</text>
<text transform="translate(34.1,291.8) rotate(-90)" style="font-size:12px"><tspan x="0" y="0" textLength="51.7" lengthAdjust="spacingAndGlyphs">Area (&#956;m</tspan><tspan x="52.9" y="-6.5" style="font-size:10px">2</tspan><tspan x="58.2" y="0">)</tspan></text>
</svg>
</body></html>
